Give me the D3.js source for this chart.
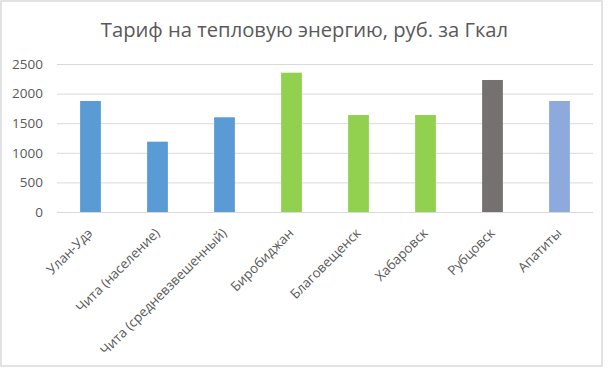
<!DOCTYPE html>
<html><head><meta charset="utf-8">
<script src="https://cdn.jsdelivr.net/npm/d3@7"></script>
<style>body{margin:0;background:#fff;} svg{display:block;}</style>
</head><body>
<svg id="c" width="612" height="368"></svg>
<script>
const title = "Тариф на тепловую энергию, руб. за Гкал";
const categories = ["Улан-Удэ","Чита (население)","Чита (средневзвешенный)","Биробиджан","Благовещенск","Хабаровск","Рубцовск","Апатиты"];
const values = [1875, 1188, 1600, 2353, 1638, 1638, 2230, 1875];
const groups = ["A","A","A","B","B","B","C","D"];
const groupColors = ["#5B9BD5","#92D050","#767171","#8EA9DB"];
const yTicks = [0, 500, 1000, 1500, 2000, 2500];

const svg = d3.select("#c");
svg.append("rect").attr("x",1).attr("y",1).attr("width",601).attr("height",365)
  .attr("fill","#fff").attr("stroke","#d9d9d9").attr("stroke-width",1.5);

const x = d3.scaleBand().domain(categories).range([57,593]).paddingInner(0.69).paddingOuter(0.345);
const y = d3.scaleLinear().domain([0,2500]).range([212,64]);
const color = d3.scaleOrdinal().domain(["A","B","C","D"]).range(groupColors);

const font = "'Open Sans', sans-serif";

// gridlines + y labels
const yAxis = d3.axisLeft(y).tickValues(yTicks).tickSize(-(593-57)).tickPadding(14).tickFormat(d3.format("d"));
const gy = svg.append("g").attr("transform","translate(57,0)").call(yAxis);
gy.select(".domain").remove();
gy.selectAll(".tick line").attr("stroke","#d9d9d9").attr("stroke-width",1);
gy.selectAll(".tick text").attr("fill","#595959").style("font-family",font).style("font-size","13.5px");

// bars
svg.append("g").selectAll("rect").data(categories).join("rect")
  .attr("x", d => x(d)).attr("width", x.bandwidth())
  .attr("y", (d,i) => y(values[i])).attr("height", (d,i) => y(0) - y(values[i]))
  .attr("fill", (d,i) => color(groups[i]));

// x labels
const xAxis = d3.axisBottom(x).tickSize(0).tickPadding(0);
const gx = svg.append("g").attr("transform","translate(0,212)").call(xAxis);
gx.select(".domain").remove();
gx.selectAll(".tick text")
  .attr("fill","#595959").style("font-family",font).style("font-size","13.3px")
  .attr("text-anchor","end").attr("dy",null)
  .attr("transform","translate(3,22) rotate(-45)")
  .attr("y",0).attr("x",0);

// title
svg.append("text").attr("x",304.5).attr("y",37).attr("text-anchor","middle")
  .attr("fill","#595959").style("font-family",font).style("font-size","20.2px").text(title);
</script>
</body></html>
